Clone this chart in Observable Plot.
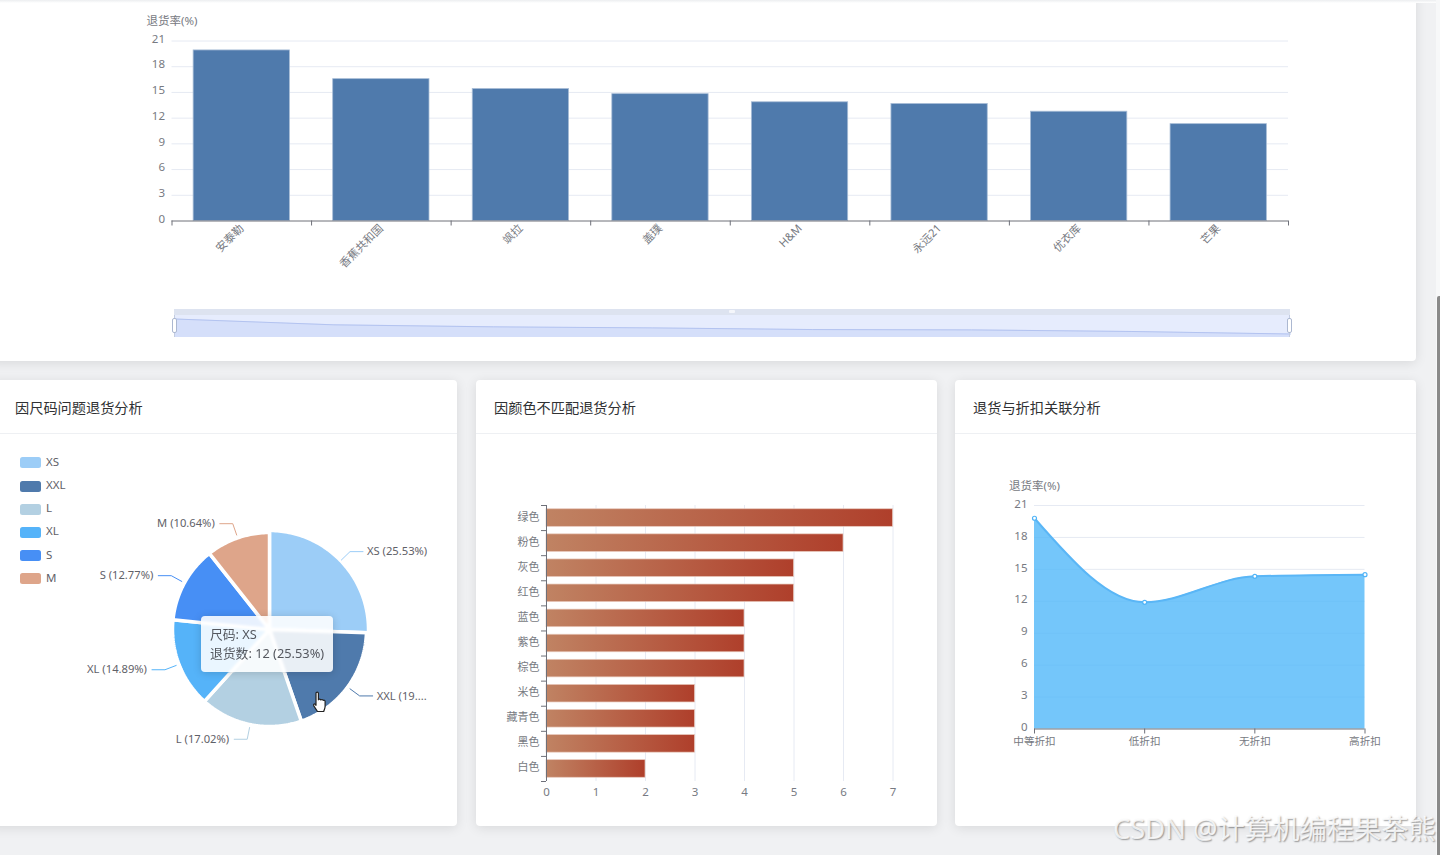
<!DOCTYPE html>
<html lang="zh">
<head>
<meta charset="utf-8">
<script src="https://cdn.jsdelivr.net/npm/d3@7"></script>
<script src="https://cdn.jsdelivr.net/npm/@observablehq/plot@0.6"></script>
<style>
html,body{margin:0;padding:0;width:1440px;height:855px;overflow:hidden;background:#f0f1f3;font-family:"Noto Sans","Noto Sans CJK SC",sans-serif;color:#303133}
.card{position:absolute;background:#fff;box-shadow:0 2px 12px rgba(0,0,0,.1);border-radius:4px}
.title{position:absolute;left:15px;top:17px;font-size:14.2px;line-height:20px;font-family:"Noto Sans CJK SC",sans-serif;color:#303133}
.rule{position:absolute;left:0;right:0;top:53px;height:1px;background:#eef0f3}
.abs{position:absolute}
.legend-swatch{position:absolute;left:20px;width:21px;height:11px;border-radius:2.5px}
.legend-text{position:absolute;left:46px;font-size:11.5px;line-height:14px;color:#5f6168}
.tooltip{position:absolute;left:201px;top:615.5px;width:132px;height:56.5px;box-sizing:border-box;padding:9px 9px;background:rgba(255,255,255,.88);backdrop-filter:blur(1px);border-radius:4px;box-shadow:0 1px 8px rgba(0,0,0,.16);font-size:12.8px;line-height:19.5px;color:#55585f;white-space:nowrap}
.wm{position:absolute;left:1113px;top:811px;font-size:27.3px;line-height:36px;white-space:nowrap;font-family:"Noto Sans","Noto Sans CJK SC",sans-serif;color:rgba(255,255,255,.82);text-shadow:1px 1px 1.5px rgba(0,0,0,.38)}
</style>
</head>
<body>
<script>
// top chart
const brandNames = ["安泰勒","香蕉共和国","飒拉","盖璞","H&M","永远21","优衣库","芒果"];
const brandRates = [19.9,16.55,15.4,14.8,13.85,13.65,12.75,11.3];
const rateTicks = [0,3,6,9,12,15,18,21];
const rateTitle = "退货率(%)";
// pie
const sizeNames = ["XS","XXL","L","XL","S","M"];
const sizeCounts = [12,9,8,7,6,5];
const sizeLabels = ["XS (25.53%)","XXL (19....","L (17.02%)","XL (14.89%)","S (12.77%)","M (10.64%)"];
const sizeColors = ["#9ccdf7","#4f7aac","#b3d0e2","#55b3f9","#478ff5","#dea58a"];
// colour bars
const colorNames = ["绿色","粉色","灰色","红色","蓝色","紫色","棕色","米色","藏青色","黑色","白色"];
const colorCounts = [7,6,5,5,4,4,4,3,3,3,2];
const countTicks = [0,1,2,3,4,5,6,7];
// discount area
const discountNames = ["中等折扣","低折扣","无折扣","高折扣"];
const discountRates = [19.8,11.9,14.35,14.5];
// text
const cardTitles = ["因尺码问题退货分析","因颜色不匹配退货分析","退货与折扣关联分析"];
const tooltipLines = ["尺码: XS","退货数: 12 (25.53%)"];
const watermark = "CSDN @计算机编程果茶熊";

const AXIS = "#6e7079", GRID = "#e6eaf3", TXT = "#777a82";
const FONT = '"Noto Sans","Noto Sans CJK SC",sans-serif';
const baseStyle = {background:"transparent",overflow:"visible",fontFamily:FONT};
function el(cls,css,text){const d=document.createElement("div");d.className=cls;Object.assign(d.style,css||{});if(text!=null)d.textContent=text;document.body.appendChild(d);return d;}
function place(svg,left,top){svg.style.position="absolute";svg.style.left=left+"px";svg.style.top=top+"px";document.body.appendChild(svg);}

// page chrome
el("card",{left:"-10px",top:"-10px",width:"1426px",height:"371px"});
const cardLefts=[-10,476,955], cardWidths=[467,461,461];
cardTitles.forEach((t,i)=>{
  const c=el("card",{left:cardLefts[i]+"px",top:"380px",width:cardWidths[i]+"px",height:"446px"});
  const h=document.createElement("div");h.className="title";h.textContent=t;if(i===0)h.style.left="25px";else h.style.left="18px";c.appendChild(h);
  const r=document.createElement("div");r.className="rule";c.appendChild(r);
});
el("abs",{left:"1436px",top:"0",width:"4px",height:"855px",background:"#f7f8f9"});
el("abs",{left:"1437px",top:"296px",width:"3px",height:"559px",background:"#8a8a8a",borderRadius:"2px 0 0 0"});
el("abs",{left:"0",top:"0",width:"1436px",height:"3px",background:"linear-gradient(#eceef0,#fff)"});

// top bar chart
const brandRows = brandNames.map((name,i)=>({name,rate:brandRates[i]}));
const brandStep = (1288-171.5)/brandNames.length;
place(Plot.plot({
  width:1416,height:300,marginLeft:171.5,marginRight:128,marginTop:40.5,marginBottom:79.5,style:baseStyle,
  x:{type:"band",domain:brandNames,paddingInner:.31,paddingOuter:.155,round:false,axis:null},
  y:{domain:[0,21],axis:null},
  marks:[
    Plot.ruleY(rateTicks.slice(1),{stroke:GRID}),
    Plot.axisY({ticks:rateTicks,tickSize:0,tickPadding:7,label:null,fontSize:11.5,color:TXT,dy:-2}),
    Plot.barY(brandRows,{x:"name",y:"rate",fill:"#4f7aac",stroke:"#a7bcd6",strokeWidth:.8}),
    Plot.ruleY([0],{stroke:AXIS}),
    Plot.ruleX(brandNames,{x:d=>d,y1:0,y2:0,dx:-brandStep/2,insetBottom:-5,stroke:AXIS}),
    Plot.ruleX(brandNames.slice(-1),{x:d=>d,y1:0,y2:0,dx:brandStep/2,insetBottom:-5,stroke:AXIS}),
    Plot.text(brandNames,{x:d=>d,y:0,text:d=>d,rotate:-45,textAnchor:"end",lineAnchor:"middle",dx:0,dy:5.5,fontSize:11.2,fill:TXT}),
    Plot.text([rateTitle],{frameAnchor:"top-left",lineAnchor:"middle",dy:-20,textAnchor:"middle",fontSize:11.5,fill:TXT})
  ]
}),0,0);

// data zoom slider
el("abs",{left:"174px",top:"308.5px",width:"1116px",height:"6px",background:"#dde3f0"});
el("abs",{left:"174px",top:"314.5px",width:"1116px",height:"22px",background:"#e6ecfd"});
const brushFloor = 9.3;
place(Plot.plot({
  width:1116,height:22,margin:0,style:baseStyle,
  x:{type:"point",domain:brandNames,padding:0,round:false,axis:null},
  y:{domain:[brushFloor,21.9],axis:null},
  marks:[
    Plot.areaY(brandRows,{x:"name",y1:brushFloor,y2:"rate",fill:"#d5dffa"}),
    Plot.lineY(brandRows,{x:"name",y:"rate",stroke:"#b3c3f0",strokeWidth:1})
  ]
}),174,314.5);
[174,1289].forEach(x=>el("abs",{left:x+"px",top:"314.5px",width:"1px",height:"22px",background:"#c3cce0"}));
[172,1286.5].forEach(x=>el("abs",{left:x+"px",top:"318.3px",width:"3px",height:"12.5px",background:"#fff",border:"1px solid #acb8d1",borderRadius:"2px"}));
el("abs",{left:"729px",top:"310px",width:"6px",height:"2.5px",background:"#f4f6fb",borderRadius:"1px"});

// pie
const total = d3.sum(sizeCounts);
let acc = 0;
const slices = sizeNames.map((name,i)=>{
  const a0=acc/total*2*Math.PI; acc+=sizeCounts[i]; const a1=acc/total*2*Math.PI;
  return {name,a0,a1,mid:(a0+a1)/2,label:sizeLabels[i],r:i===0?99:97};
});
const polar=(a,r)=>({px:r*Math.sin(a),py:r*Math.cos(a)});
const pieRows = slices.flatMap(s=>{
  const n=Math.ceil((s.a1-s.a0)/0.02), pts=[{name:s.name,px:0,py:0}];
  for(let k=0;k<=n;k++)pts.push({name:s.name,...polar(s.a0+(s.a1-s.a0)*k/n,s.r)});
  return pts;
});
const leaderRows = slices.flatMap(s=>{
  const right=Math.sin(s.mid)>0, c=polar(s.mid,112);
  return [{name:s.name,...polar(s.mid,100)},{name:s.name,...c},{name:s.name,px:c.px+(right?13:-13),py:c.py}];
});
const labelRows = slices.map(s=>{
  const right=Math.sin(s.mid)>0, c=polar(s.mid,112);
  return {label:s.label,px:c.px+(right?17:-18),py:c.py,anchor:right?"start":"end"};
});
place(Plot.plot({
  width:457,height:392,margin:0,style:baseStyle,
  x:{domain:[-270,187],axis:null},
  y:{domain:[-196,196],axis:null},
  color:{domain:sizeNames,range:sizeColors},
  marks:[
    Plot.line(pieRows,{x:"px",y:"py",z:"name",fill:"name",stroke:"#fff",strokeWidth:3.5,curve:"linear-closed",strokeLinejoin:"miter"}),
    Plot.line(leaderRows,{x:"px",y:"py",z:"name",stroke:"name",strokeWidth:1}),
    Plot.text(labelRows.filter(d=>d.anchor==="start"),{x:"px",y:"py",text:"label",textAnchor:"start",fontSize:11.2,fill:"#5f6168"}),
    Plot.text(labelRows.filter(d=>d.anchor==="end"),{x:"px",y:"py",text:"label",textAnchor:"end",fontSize:11.2,fill:"#5f6168"})
  ]
}),-1,433);
sizeNames.forEach((n,i)=>{
  const y=462.3+i*23.2;
  el("legend-swatch",{top:(y-5)+"px",background:sizeColors[i]});
  el("legend-text",{top:(y-7.5)+"px"},n);
});
const tip=el("tooltip");
tooltipLines.forEach(t=>{const l=document.createElement("div");l.textContent=t;tip.appendChild(l);});
const cursor=document.createElementNS("http://www.w3.org/2000/svg","svg");
cursor.setAttribute("width","20");cursor.setAttribute("height","24");cursor.setAttribute("viewBox","0 0 20 24");
cursor.innerHTML='<path d="M6 2.2c0-1.5 2.4-1.5 2.4 0v6.6c.6-1 2.1-.9 2.4.2.7-.8 2-.6 2.3.4.8-.5 2-.1 2 1.1v4.8c0 2.4-1 3.4-1.4 5.2H7.400c-.5-1.600-2-2.900-3.600-5.600-.8-1.400.6-2.500 1.500-1.500l.7.900z" fill="#fff" stroke="#222" stroke-width="1.200" stroke-linejoin="round"/>';
cursor.style.cssText="position:absolute;left:310px;top:691px;";
document.body.appendChild(cursor);

// colour bars
const colorRows = colorNames.map((name,i)=>({name,count:colorCounts[i]}));
const colorStep = (781-505)/colorNames.length;
const gradient = () => {
  const defs=d3.create("svg:defs");
  const g=defs.append("linearGradient").attr("id","barFade");
  g.append("stop").attr("offset","0%").attr("stop-color","#c08363");
  g.append("stop").attr("offset","100%").attr("stop-color","#af3f2b");
  return defs.node();
};
place(Plot.plot({
  width:461,height:350,marginLeft:70,marginRight:44.5,marginTop:25,marginBottom:49,style:baseStyle,
  x:{domain:[0,7],axis:null},
  y:{type:"band",domain:colorNames,paddingInner:.3,paddingOuter:.15,round:false,axis:null},
  marks:[
    gradient,
    Plot.ruleX(countTicks.slice(1),{stroke:GRID}),
    Plot.axisX({ticks:countTicks,tickFormat:"d",tickSize:0,tickPadding:6,label:null,fontSize:11.5,color:TXT}),
    Plot.barX(colorRows,{x:"count",y:"name",fill:"url(#barFade)",stroke:"#e8c8bb",strokeWidth:.7}),
    Plot.ruleX([0],{stroke:AXIS}),
    Plot.ruleY(colorNames,{y:d=>d,x1:0,x2:0,dy:-colorStep/2,insetLeft:-5,stroke:AXIS}),
    Plot.ruleY(colorNames.slice(-1),{y:d=>d,x1:0,x2:0,dy:colorStep/2,insetLeft:-5,stroke:AXIS}),
    Plot.axisY({tickSize:0,tickPadding:7,label:null,fontSize:11,color:TXT,fontFamily:"Noto Sans CJK SC",dy:-1})
  ]
}),476,480);

// area
const discountRows = discountNames.map((name,i)=>({name,rate:discountRates[i]}));
place(Plot.plot({
  width:461,height:300,marginLeft:79,marginRight:51.5,marginTop:25,marginBottom:51.5,style:baseStyle,
  x:{type:"point",domain:discountNames,padding:0,round:false,axis:null},
  y:{domain:[0,21],axis:null},
  marks:[
    Plot.ruleY(rateTicks.slice(1),{stroke:GRID}),
    Plot.axisY({ticks:rateTicks,tickSize:0,tickPadding:7,label:null,fontSize:11.5,color:TXT,dy:-1.5}),
    Plot.areaY(discountRows,{x:"name",y:"rate",curve:"monotone-x",fill:"#51b8f9",fillOpacity:.8}),
    Plot.lineY(discountRows,{x:"name",y:"rate",curve:"monotone-x",stroke:"#5ab6f6",strokeWidth:2}),
    Plot.dot(discountRows,{x:"name",y:"rate",r:2,fill:"#fff",stroke:"#51b4f7",strokeWidth:1.2}),
    Plot.ruleY([0],{stroke:AXIS}),
    Plot.ruleX(discountNames,{x:d=>d,y1:0,y2:0,insetBottom:-5,stroke:AXIS}),
    Plot.axisX({tickSize:0,tickPadding:8,label:null,fontSize:10.6,color:TXT,fontFamily:"Noto Sans CJK SC"}),
    Plot.text([rateTitle],{frameAnchor:"top-left",lineAnchor:"middle",dy:-19,textAnchor:"middle",dx:0,fontSize:11.5,fill:TXT})
  ]
}),955,480);

el("wm",null,watermark);
</script>
</body>
</html>
